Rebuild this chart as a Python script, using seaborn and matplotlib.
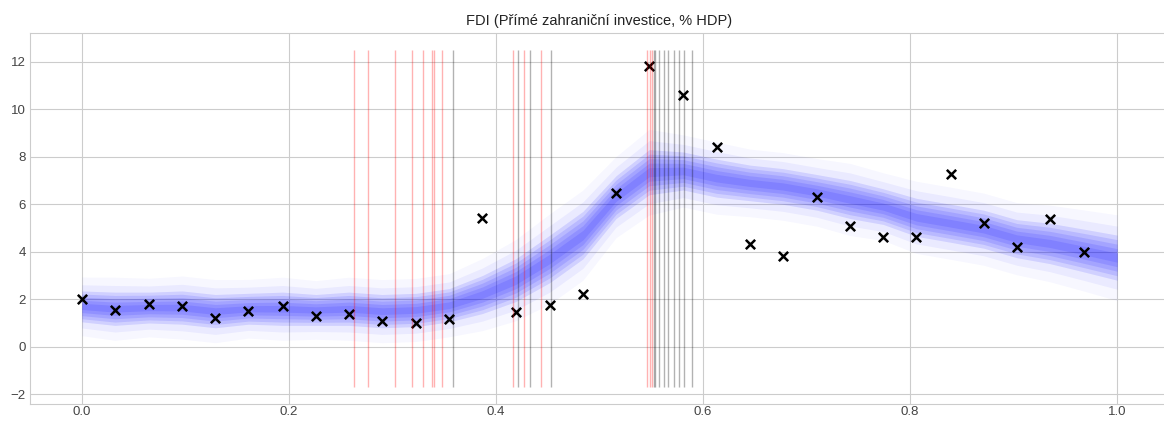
import numpy as np
import seaborn as sns
import matplotlib
matplotlib.use("Agg")
import matplotlib.pyplot as plt

# Observed values (x markers)
obs_x = [0.0, 0.032, 0.065, 0.097, 0.129, 0.161, 0.194, 0.226, 0.258, 0.29,
         0.323, 0.355, 0.387, 0.419, 0.452, 0.484, 0.516, 0.548, 0.581, 0.613,
         0.645, 0.677, 0.71, 0.742, 0.774, 0.806, 0.839, 0.871, 0.903, 0.935, 0.968]
obs_y = [2.0, 1.55, 1.78, 1.72, 1.22, 1.52, 1.7, 1.3, 1.38, 1.1,
         0.98, 1.16, 5.43, 1.45, 1.77, 2.22, 6.48, 11.83, 10.58, 8.42,
         4.33, 3.84, 6.32, 5.1, 4.62, 4.64, 7.28, 5.2, 4.21, 5.39, 3.97]

# Posterior sample band: centre and core half-width
band_x = [0.0, 0.032, 0.065, 0.097, 0.129, 0.161, 0.194, 0.226, 0.258, 0.29,
          0.323, 0.355, 0.387, 0.419, 0.452, 0.484, 0.516, 0.548, 0.581, 0.613,
          0.645, 0.677, 0.71, 0.742, 0.774, 0.806, 0.839, 0.871, 0.903, 0.935, 0.968, 1.0]
band_mid = [1.7, 1.6, 1.65, 1.65, 1.5, 1.6, 1.6, 1.55, 1.6, 1.5,
            1.55, 1.75, 2.2, 2.8, 3.7, 4.7, 6.3, 7.35, 7.4, 7.1,
            6.9, 6.75, 6.5, 6.2, 5.9, 5.45, 5.2, 4.95, 4.55, 4.35, 4.05, 3.75]
band_half = [0.65, 0.7, 0.65, 0.7, 0.7, 0.65, 0.7, 0.65, 0.7, 0.7,
             0.7, 0.7, 0.8, 0.9, 1.0, 1.0, 0.9, 0.95, 0.8, 0.8,
             0.75, 0.75, 0.75, 0.8, 0.75, 0.8, 0.8, 0.8, 0.8, 0.85, 0.9, 0.95]

# Change-point lines
red_lines = [0.263, 0.276, 0.3026, 0.3194, 0.330, 0.3387, 0.3402, 0.3477,
             0.416, 0.4271, 0.4437, 0.5463, 0.5485, 0.5505]
black_lines = [0.3588, 0.4213, 0.4331, 0.4529, 0.5524, 0.5538, 0.5575, 0.5623,
               0.5662, 0.572, 0.5768, 0.5817, 0.5898]

sns.set_style("whitegrid")
plt.rcParams['font.family'] = ['Liberation Sans', 'DejaVu Sans']

fig = plt.figure(figsize=(11.64, 4.21), dpi=100)
ax = fig.add_axes([30 / 1164, 17 / 421, 1139 / 1164, 371 / 421])

mid = np.array(band_mid)
half = np.array(band_half)
# faint haze, then denser layers towards the centre
ax.fill_between(band_x, mid - 1.9 * half, mid + 1.9 * half, color="blue", alpha=0.03, lw=0)
ax.fill_between(band_x, mid - 1.4 * half, mid + 1.4 * half, color="blue", alpha=0.05, lw=0)
for f in [1.0, 0.8, 0.6, 0.4, 0.2]:
    ax.fill_between(band_x, mid - f * half, mid + f * half, color="blue", alpha=0.11, lw=0)

sns.scatterplot(x=obs_x, y=obs_y, marker="x", color="black", s=45, linewidth=1.8, ax=ax, zorder=3)

ax.vlines(red_lines, -1.7, 12.5, color="red", alpha=0.3, lw=1.0, zorder=4)
ax.vlines(black_lines, -1.7, 12.5, color="black", alpha=0.3, lw=1.0, zorder=4)

ax.set_xlim(-0.05, 1.05)
ax.set_ylim(-2.41, 13.21)
ax.set_xticks([0.0, 0.2, 0.4, 0.6, 0.8, 1.0])
ax.set_yticks([-2, 0, 2, 4, 6, 8, 10, 12])
ax.tick_params(labelsize=9.5, colors="#444444", length=0)
ax.tick_params(axis="x", pad=1.5)
ax.tick_params(axis="y", pad=3)
ax.set_title("FDI (Přímé zahraniční investice, % HDP)", fontsize=10.5, color="#222222")

fig.savefig("out.png", dpi=100)
